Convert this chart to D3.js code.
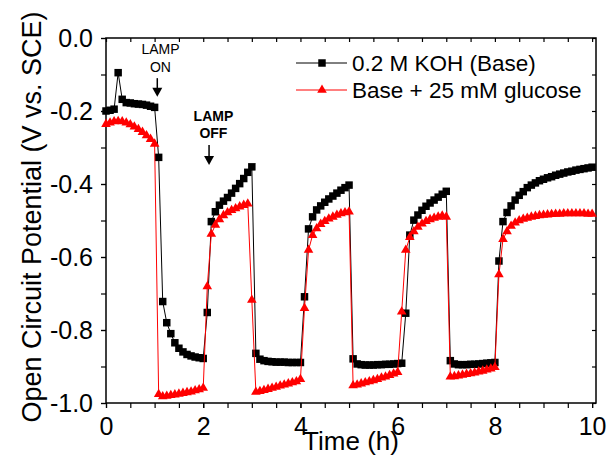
<!DOCTYPE html>
<html>
<head>
<meta charset="utf-8">
<script src="https://cdn.jsdelivr.net/npm/d3@7"></script>
<style>
  body { margin: 0; background: #fff; }
  text { font-family: Arial, "Liberation Sans", sans-serif; fill: #000; }
</style>
</head>
<body>
<svg width="608" height="457"></svg>
<script>
// sampling time, minutes
const timeMin = [
  0, 5, 10, 15, 20, 25, 30, 35, 40, 45, 50, 55,
  60, 65, 70, 75, 80, 85, 90, 95, 100, 105, 110, 115,
  120, 125, 130, 135, 140, 145, 150, 155, 160, 165, 170, 175,
  180, 185, 190, 195, 200, 205, 210, 215, 220, 225, 230, 235,
  240, 245, 250, 255, 260, 265, 270, 275, 280, 285, 290, 295,
  300, 305, 310, 315, 320, 325, 330, 335, 340, 345, 350, 355,
  360, 365, 370, 375, 380, 385, 390, 395, 400, 405, 410, 415,
  420, 425, 430, 435, 440, 445, 450, 455, 460, 465, 470, 475,
  480, 485, 490, 495, 500, 505, 510, 515, 520, 525, 530, 535,
  540, 545, 550, 555, 560, 565, 570, 575, 580, 585, 590, 595,
  600
];

// 0.2 M KOH (Base), V vs. SCE
const baseOCP = [
  -0.200, -0.198, -0.195, -0.095, -0.168, -0.177, -0.178, -0.180, -0.181, -0.182, -0.184, -0.187,
  -0.190, -0.327, -0.722, -0.780, -0.810, -0.835, -0.850, -0.860, -0.867, -0.871, -0.874, -0.876,
  -0.878, -0.752, -0.503, -0.476, -0.458, -0.447, -0.437, -0.425, -0.412, -0.399, -0.385, -0.368,
  -0.353, -0.864, -0.880, -0.884, -0.886, -0.887, -0.888, -0.888, -0.888, -0.889, -0.889, -0.889,
  -0.889, -0.709, -0.523, -0.490, -0.471, -0.460, -0.450, -0.441, -0.433, -0.425, -0.417, -0.410,
  -0.403, -0.879, -0.893, -0.895, -0.896, -0.896, -0.896, -0.895, -0.895, -0.894, -0.894, -0.893,
  -0.892, -0.891, -0.754, -0.540, -0.499, -0.485, -0.472, -0.461, -0.452, -0.444, -0.436, -0.428,
  -0.420, -0.884, -0.893, -0.895, -0.895, -0.895, -0.894, -0.894, -0.893, -0.892, -0.891, -0.890,
  -0.889, -0.611, -0.503, -0.478, -0.460, -0.444, -0.431, -0.421, -0.410, -0.403, -0.397, -0.391,
  -0.387, -0.383, -0.380, -0.376, -0.373, -0.370, -0.367, -0.365, -0.362, -0.360, -0.358, -0.356,
  -0.354
];

// Base + 25 mM glucose
const glucoseOCP = [
  -0.236, -0.232, -0.229, -0.228, -0.229, -0.232, -0.237, -0.243, -0.250, -0.258, -0.267, -0.277,
  -0.290, -0.976, -0.982, -0.981, -0.979, -0.977, -0.975, -0.973, -0.971, -0.969, -0.966, -0.963,
  -0.959, -0.681, -0.537, -0.512, -0.497, -0.486, -0.478, -0.472, -0.467, -0.462, -0.458, -0.454,
  -0.718, -0.970, -0.968, -0.965, -0.962, -0.959, -0.956, -0.953, -0.950, -0.947, -0.944, -0.941,
  -0.935, -0.740, -0.581, -0.540, -0.522, -0.510, -0.502, -0.495, -0.490, -0.485, -0.481, -0.478,
  -0.476, -0.952, -0.950, -0.947, -0.944, -0.941, -0.938, -0.935, -0.931, -0.928, -0.924, -0.920,
  -0.916, -0.750, -0.581, -0.546, -0.530, -0.518, -0.509, -0.502, -0.497, -0.493, -0.490, -0.487,
  -0.490, -0.928, -0.927, -0.925, -0.923, -0.921, -0.919, -0.917, -0.914, -0.912, -0.909, -0.906,
  -0.902, -0.648, -0.551, -0.530, -0.515, -0.506, -0.500, -0.496, -0.493, -0.490, -0.488, -0.486,
  -0.485, -0.484, -0.483, -0.482, -0.482, -0.481, -0.481, -0.481, -0.481, -0.481, -0.481, -0.482,
  -0.482
];

const seriesNames = ["0.2 M KOH (Base)", "Base + 25 mM glucose"];

const xTicks = [0, 2, 4, 6, 8, 10];
const xTickLabels = ["0", "2", "4", "6", "8", "10"];
const xMinor = [0, 0.5, 1, 1.5, 2, 2.5, 3, 3.5, 4, 4.5, 5, 5.5, 6, 6.5, 7, 7.5, 8, 8.5, 9, 9.5, 10];
const yTicks = [0, -0.2, -0.4, -0.6, -0.8, -1.0];
const yTickLabels = ["0.0", "-0.2", "-0.4", "-0.6", "-0.8", "-1.0"];
const yMinor = [0, -0.1, -0.2, -0.3, -0.4, -0.5, -0.6, -0.7, -0.8, -0.9, -1.0];

// LAMP annotations: label lines, text x (h), text y (V) per line, arrow x, arrow from/to y
const lampNotes = [
  { lines: ["LAMP", "ON"], tx: 1.12, ty: [-0.044, -0.092], ax: 1.055, ay: [-0.11, -0.161], weight: "normal" },
  { lines: ["LAMP", "OFF"], tx: 2.21, ty: [-0.227, -0.275], ax: 2.12, ay: [-0.293, -0.348], weight: "bold" }
];

const margin = { top: 38, right: 12, bottom: 54, left: 106 },
    width = 608 - margin.left - margin.right,
    height = 457 - margin.top - margin.bottom;

const svg = d3.select("svg");
const g = svg.append("g").attr("transform", "translate(" + margin.left + "," + margin.top + ")");

const x = d3.scaleLinear().domain([0, 10.08]).range([0, width]);
const y = d3.scaleLinear().domain([-1, 0]).range([height, 0]);

const base = timeMin.map((t, i) => ({ t: t / 60, v: baseOCP[i] }));
const gluc = timeMin.map((t, i) => ({ t: t / 60, v: glucoseOCP[i] }));

const line = d3.line().x(d => x(d.t)).y(d => y(d.v));
const square = d3.symbol().type(d3.symbolSquare).size(56);
const triangle = d3.symbol().type(d3.symbolTriangle).size(40);

// minor ticks
g.append("g").attr("transform", "translate(0," + height + ")")
    .call(d3.axisBottom(x).tickValues(xMinor).tickSize(5).tickFormat(""))
    .call(a => a.select(".domain").remove());
g.append("g")
    .call(d3.axisLeft(y).tickValues(yMinor).tickSize(5).tickFormat(""))
    .call(a => a.select(".domain").remove());
// inward ticks on the mirror axes
g.append("g")
    .call(d3.axisTop(x).tickValues(xMinor).tickSize(-4).tickFormat(""))
    .call(a => a.select(".domain").remove());
g.append("g").attr("transform", "translate(" + width + ",0)")
    .call(d3.axisRight(y).tickValues(yMinor).tickSize(-4).tickFormat(""))
    .call(a => a.select(".domain").remove());

// major ticks with labels
const xAxis = g.append("g").attr("transform", "translate(0," + height + ")")
    .call(d3.axisBottom(x).tickValues(xTicks).tickSize(5).tickFormat((d, i) => xTickLabels[i]))
    .call(a => a.select(".domain").remove());
xAxis.selectAll("text").attr("dy", null).attr("y", 32)
    .style("font-size", "25px");

const yAxis = g.append("g")
    .call(d3.axisLeft(y).tickValues(yTicks).tickSize(5).tickFormat((d, i) => yTickLabels[i]))
    .call(a => a.select(".domain").remove());
yAxis.selectAll("text").attr("x", -13).style("font-size", "25px");

g.selectAll(".tick line").attr("stroke", "#000").attr("stroke-width", 1.2);

g.append("rect")
    .attr("width", width).attr("height", height)
    .attr("fill", "none").attr("stroke", "#000").attr("stroke-width", 1.5);

// base series
g.append("path").datum(base)
    .attr("fill", "none").attr("stroke", "#000").attr("stroke-width", 1)
    .attr("d", line);
g.selectAll(".sq").data(base).enter().append("path")
    .attr("class", "sq")
    .attr("transform", d => "translate(" + x(d.t) + "," + y(d.v) + ")")
    .attr("d", square).attr("fill", "#000");

// glucose series
g.append("path").datum(gluc)
    .attr("fill", "none").attr("stroke", "#ff0000").attr("stroke-width", 1)
    .attr("d", line);
g.selectAll(".tri").data(gluc).enter().append("path")
    .attr("class", "tri")
    .attr("transform", d => "translate(" + x(d.t) + "," + y(d.v) + ")")
    .attr("d", triangle).attr("fill", "#ff0000");

// lamp annotations
lampNotes.forEach(n => {
    n.lines.forEach((s, i) => {
        g.append("text")
            .attr("x", x(n.tx)).attr("y", y(n.ty[i]))
            .attr("text-anchor", "middle")
            .style("font-size", "14px").style("font-weight", n.weight)
            .text(s);
    });
    const x0 = x(n.ax), y0 = y(n.ay[0]), y1 = y(n.ay[1]);
    g.append("line")
        .attr("x1", x0).attr("x2", x0).attr("y1", y0).attr("y2", y1 - 6)
        .attr("stroke", "#000").attr("stroke-width", 1.5);
    g.append("path")
        .attr("d", "M" + (x0 - 5) + "," + (y1 - 9) + "L" + (x0 + 5) + "," + (y1 - 9) + "L" + x0 + "," + y1 + "Z")
        .attr("fill", "#000");
});

// legend
const legend = g.append("g").attr("transform", "translate(190,25)");
seriesNames.forEach((name, i) => {
    const row = legend.append("g").attr("transform", "translate(0," + (i * 27) + ")");
    const col = i === 0 ? "#000" : "#ff0000";
    row.append("line").attr("x1", 0).attr("x2", 51).attr("y1", 0).attr("y2", 0)
        .attr("stroke", col).attr("stroke-width", 1);
    row.append("path").attr("transform", "translate(26,0)")
        .attr("d", i === 0 ? square : triangle).attr("fill", col);
    row.append("text").attr("x", 56).attr("y", 8)
        .style("font-size", "22.5px").text(name);
});

// axis titles
svg.append("text")
    .attr("x", margin.left + width / 2).attr("y", 450)
    .attr("text-anchor", "middle").style("font-size", "26px")
    .text("Time (h)");
svg.append("text")
    .attr("transform", "translate(41,217) rotate(-90)")
    .attr("text-anchor", "middle").style("font-size", "27px")
    .text("Open Circuit Potential (V vs. SCE)");
</script>
</body>
</html>
